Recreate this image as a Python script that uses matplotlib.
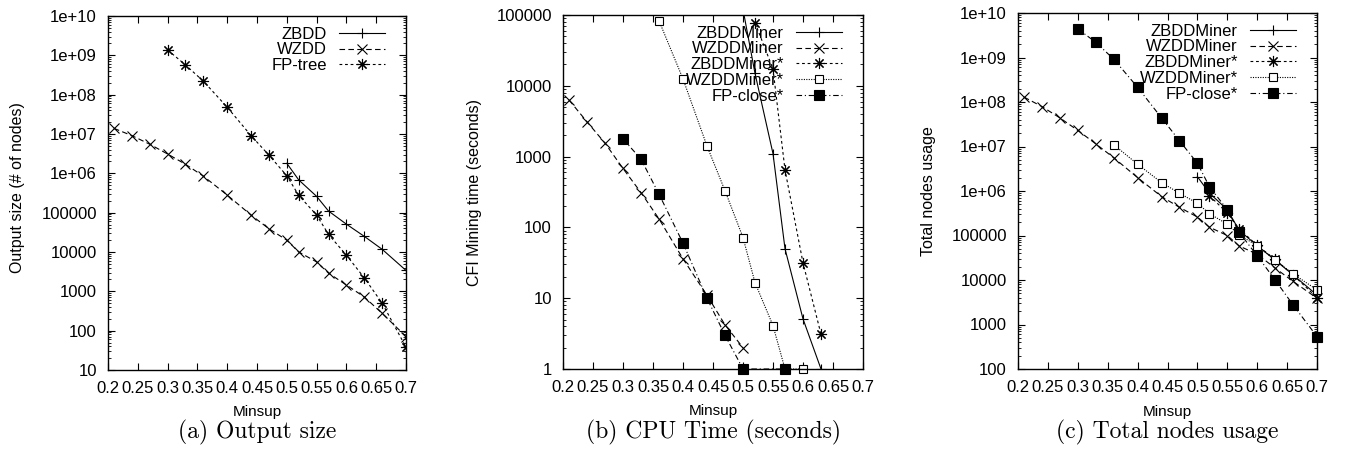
import numpy as np
import matplotlib
matplotlib.use("Agg")
from matplotlib import pyplot as plt
from matplotlib.ticker import FixedLocator, FuncFormatter, LogLocator, NullFormatter

plt.rcParams['font.family'] = ['Liberation Sans', 'DejaVu Sans']

# minsup values used on the x axis
minsup = [0.21, 0.24, 0.27, 0.30, 0.33, 0.36, 0.40, 0.44, 0.47, 0.50,
          0.52, 0.55, 0.57, 0.60, 0.63, 0.66, 0.70]

# (a) output size (# of nodes)
a_zbdd_x = [0.50, 0.52, 0.55, 0.57, 0.60, 0.63, 0.66, 0.70]
a_zbdd = [1.8e6, 6.8e5, 2.6e5, 1.1e5, 5.1e4, 2.5e4, 1.17e4, 3.4e3]
a_wzdd_x = minsup
a_wzdd = [1.39e7, 9.1e6, 5.5e6, 3.1e6, 1.7e6, 8.5e5, 2.8e5, 8.7e4, 3.9e4,
          2.0e4, 1.0e4, 5.6e3, 2.9e3, 1.45e3, 720, 275, 71]
a_fptree_x = [0.30, 0.33, 0.36, 0.40, 0.44, 0.47, 0.50, 0.52, 0.55, 0.57,
              0.60, 0.63, 0.66, 0.70]
a_fptree = [1.37e9, 5.7e8, 2.2e8, 4.8e7, 9.1e6, 2.9e6, 8.7e5, 2.75e5, 8.7e4,
            2.8e4, 8.3e3, 2.2e3, 500, 38]

# (b) CFI mining time (seconds)
b_zbdd_x = [0.50, 0.52, 0.55, 0.57, 0.60, 0.63]
b_zbdd = [1.2e5, 1.5e4, 1100, 50, 5.1, 1]
b_wzdd_x = [0.21, 0.24, 0.27, 0.30, 0.33, 0.36, 0.40, 0.44, 0.47, 0.50]
b_wzdd = [6300, 3100, 1550, 680, 310, 132, 36, 11, 4.2, 2.0]
b_zbdds_x = [0.52, 0.55, 0.57, 0.60, 0.63]
b_zbdds = [78000, 17300, 650, 31.6, 3.1]
b_wzdds_x = [0.36, 0.40, 0.44, 0.47, 0.50, 0.52, 0.55, 0.57, 0.60]
b_wzdds = [83000, 12500, 1410, 330, 72, 16.6, 4.1, 1, 1]
b_fpclose_x = [0.30, 0.33, 0.36, 0.40, 0.44, 0.47, 0.50, 0.57]
b_fpclose = [1780, 920, 295, 60, 10, 3.0, 1, 1]

# (c) total nodes usage
c_zbdd_x = [0.50, 0.52, 0.55, 0.57, 0.60, 0.63, 0.66, 0.70]
c_zbdd = [2.1e6, 9e5, 3.8e5, 1.3e5, 5.9e4, 2.8e4, 1.3e4, 4.6e3]
c_wzdd_x = minsup
c_wzdd = [1.29e8, 7.9e7, 4.4e7, 2.3e7, 1.15e7, 5.6e6, 2.0e6, 7.5e5, 4.3e5,
          2.6e5, 1.54e5, 1.0e5, 5.8e4, 3.8e4, 1.85e4, 9.3e3, 3.9e3]
c_zbdds_x = [0.52, 0.55, 0.57, 0.60, 0.63, 0.66, 0.70]
c_zbdds = [7.9e5, 3.2e5, 1.4e5, 6.0e4, 2.9e4, 1.3e4, 4.0e3]
c_wzdds_x = [0.36, 0.40, 0.44, 0.47, 0.50, 0.52, 0.55, 0.57, 0.60, 0.63,
             0.66, 0.70]
c_wzdds = [1.1e7, 4.0e6, 1.55e6, 8.9e5, 5.3e5, 3.1e5, 1.8e5, 1.03e5, 5.9e4,
           2.8e4, 1.37e4, 6.0e3]
c_fpclose_x = [0.30, 0.33, 0.36, 0.40, 0.44, 0.47, 0.50, 0.52, 0.55, 0.57,
               0.60, 0.63, 0.66, 0.70]
c_fpclose = [4.4e9, 2.2e9, 9.2e8, 2.14e8, 4.4e7, 1.35e7, 4.2e6, 1.26e6,
             3.8e5, 1.17e5, 3.5e4, 1.0e4, 2.75e3, 535]

xticks = [0.2, 0.25, 0.3, 0.35, 0.4, 0.45, 0.5, 0.55, 0.6, 0.65, 0.7]

# gnuplot-like line types
LW = 0.8
st_solid = dict(color='k', lw=LW, ls='-', marker='+', ms=7.5, mew=0.8)
st_dash = dict(color='k', lw=LW, ls=(0, (5, 3)), marker='x', ms=6.5, mew=0.8)
st_short = dict(color='k', lw=LW, ls=(0, (2.5, 2.5)), marker=(8, 2, 0), ms=8, mew=0.8)
st_dot = dict(color='k', lw=LW, ls=(0, (1, 1.2)), marker='s', ms=6, mew=0.8,
              mfc='white')
st_dashdot = dict(color='k', lw=LW, ls=(0, (5, 2.5, 1, 2.5)), marker='s', ms=7,
                  mew=0.8, mfc='k')


def ylab(v, pos):
    if v < 1e6:
        return '%d' % round(v)
    return '%.0e' % v


def style_axes(ax, ymin, ymax):
    ax.set_xlim(0.2, 0.7)
    ax.set_yscale('log')
    ax.set_ylim(ymin, ymax)
    ax.xaxis.set_major_locator(FixedLocator(xticks))
    ax.xaxis.set_major_formatter(FuncFormatter(lambda v, p: '%g' % round(v, 2)))
    ax.yaxis.set_major_locator(LogLocator(base=10, numticks=20))
    ax.yaxis.set_minor_locator(LogLocator(base=10, subs=(2, 3, 4, 5, 6, 7, 8, 9),
                                          numticks=20))
    ax.yaxis.set_minor_formatter(NullFormatter())
    ax.yaxis.set_major_formatter(FuncFormatter(ylab))
    ax.tick_params(which='major', direction='in', length=5, width=0.8,
                   top=True, right=True, labelsize=12, pad=8)
    ax.tick_params(which='minor', direction='in', length=2.5, width=0.6,
                   top=False, right=True)
    for s in ax.spines.values():
        s.set_linewidth(1.0)
    ax.set_xlabel('Minsup', fontsize=11)
    ax.xaxis.set_label_coords(0.5, -0.10)


fig = plt.figure(figsize=(13.46, 4.49), dpi=100)
W, H = 1346.0, 449.0
ax1 = fig.add_axes([108 / W, 1 - 370 / H, 298 / W, 354 / H])
ax2 = fig.add_axes([563 / W, 1 - 369 / H, 300 / W, 354 / H])
ax3 = fig.add_axes([1018 / W, 1 - 369 / H, 299 / W, 356 / H])

# (a)
ax1.plot(a_zbdd_x, a_zbdd, label='ZBDD', **st_solid)
ax1.plot(a_wzdd_x, a_wzdd, label='WZDD', **st_dash)
ax1.plot(a_fptree_x, a_fptree, label='FP-tree', **st_short)
style_axes(ax1, 10, 1e10)
ax1.set_ylabel('Output size (# of nodes)', fontsize=11.5)
ax1.yaxis.set_label_coords(-0.279, 0.515)

# (b)
ax2.plot(b_zbdd_x, b_zbdd, label='ZBDDMiner', clip_on=True, **st_solid)
ax2.plot(b_wzdd_x, b_wzdd, label='WZDDMiner', **st_dash)
ax2.plot(b_zbdds_x, b_zbdds, label='ZBDDMiner*', **st_short)
ax2.plot(b_wzdds_x, b_wzdds, label='WZDDMiner*', clip_on=False, **st_dot)
ax2.plot(b_fpclose_x, b_fpclose, label='FP-close*', clip_on=False, **st_dashdot)
style_axes(ax2, 1, 1e5)
ax2.set_ylabel('CFI Mining time (seconds)', fontsize=11.5)
ax2.yaxis.set_label_coords(-0.269, 0.5)

# (c)
ax3.plot(c_zbdd_x, c_zbdd, label='ZBDDMiner', **st_solid)
ax3.plot(c_wzdd_x, c_wzdd, label='WZDDMiner', clip_on=False, **st_dash)
ax3.plot(c_zbdds_x, c_zbdds, label='ZBDDMiner*', clip_on=False, **st_short)
ax3.plot(c_wzdds_x, c_wzdds, label='WZDDMiner*', clip_on=False, **st_dot)
ax3.plot(c_fpclose_x, c_fpclose, label='FP-close*', clip_on=False, **st_dashdot)
style_axes(ax3, 100, 1e10)
ax3.set_ylabel('Total nodes usage', fontsize=11.5)
ax3.yaxis.set_label_coords(-0.275, 0.5)

for ax in (ax1, ax2, ax3):
    ax.legend(loc='upper right', bbox_to_anchor=(0.953, 0.989), frameon=False,
              markerfirst=False, numpoints=1, fontsize=12, handlelength=2.8,
              handletextpad=0.7, labelspacing=0.05, borderaxespad=0)

captions = ['(a) Output size', '(b) CPU Time (seconds)', '(c) Total nodes usage']
for ax, cap in zip((ax1, ax2, ax3), captions):
    pos = ax.get_position()
    fig.text((pos.x0 + pos.x1) / 2, 1 - 432 / H, cap, ha='center', va='center',
             fontsize=17, family='cmr10')

fig.savefig('out.png', dpi=100)
